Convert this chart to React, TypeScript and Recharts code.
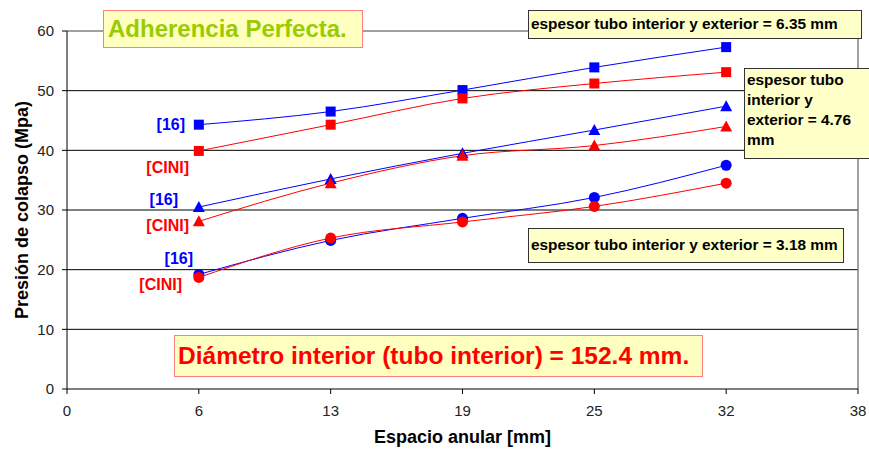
import React from 'react';
import { LineChart, Line, XAxis, YAxis, CartesianGrid, ReferenceLine, Label } from 'recharts';

const espacio = [6.35, 12.7, 19.05, 25.4, 31.75];
const xTicks = [0, 6.35, 12.7, 19.05, 25.4, 31.75, 38.1];
const yTicks = [0, 10, 20, 30, 40, 50, 60];

const sq16 = [44.3, 46.5, 50.1, 53.9, 57.3];
const sqCini = [39.9, 44.3, 48.7, 51.2, 53.1];
const tr16 = [30.5, 35.2, 39.5, 43.4, 47.4];
const trCini = [28.1, 34.5, 39.1, 40.8, 44.0];
const ci16 = [19.2, 24.9, 28.6, 32.1, 37.5];
const ciCini = [18.7, 25.3, 28.0, 30.6, 34.5];

const data = espacio.map((x, i) => ({
  x,
  sq16: sq16[i],
  sqCini: sqCini[i],
  tr16: tr16[i],
  trCini: trCini[i],
  ci16: ci16[i],
  ciCini: ciCini[i],
}));

const Square = (color: string) => (props: any) => {
  const { cx, cy, index } = props;
  if (cx == null || cy == null) return <g key={index} />;
  return <rect key={index} x={cx - 5} y={cy - 5} width={10} height={10} fill={color} />;
};
const Tri = (color: string) => (props: any) => {
  const { cx, cy, index } = props;
  if (cx == null || cy == null) return <g key={index} />;
  return <polygon key={index} points={`${cx},${cy - 6} ${cx + 6},${cy + 5} ${cx - 6},${cy + 5}`} fill={color} />;
};
const Circ = (color: string) => (props: any) => {
  const { cx, cy, index } = props;
  if (cx == null || cy == null) return <g key={index} />;
  return <circle key={index} cx={cx} cy={cy} r={5.5} fill={color} />;
};

const BLUE = '#0000FF';
const RED = '#FF0000';
const FONT = 'Liberation Sans, Arial, sans-serif';

const tag = (text: string, color: string, right: number, top: number) => (
  <div
    style={{
      position: 'absolute',
      right: 869 - right,
      top,
      color,
      fontFamily: FONT,
      fontWeight: 'bold',
      fontSize: 16,
      lineHeight: '18px',
      whiteSpace: 'nowrap',
    }}
  >
    {text}
  </div>
);

export default function App() {
  return (
    <div style={{ position: 'absolute', left: 0, top: 0, width: 869, height: 452, background: '#fff', fontFamily: FONT }}>
      <LineChart
        width={869}
        height={452}
        data={data}
        margin={{ top: 31, right: 11, bottom: 23, left: 30 }}
      >
        <CartesianGrid horizontal={true} vertical={false} stroke="#000" strokeOpacity={1} horizontalValues={[10, 20, 30, 40, 50]} />
        <ReferenceLine y={60} stroke="#808080" strokeWidth={1.5} />
        <ReferenceLine x={38.1} stroke="#808080" strokeWidth={1.5} />
        <XAxis
          dataKey="x"
          type="number"
          domain={[0, 38.1]}
          ticks={xTicks}
          tickFormatter={(v: number) => String(Math.round(v))}
          stroke="#000"
          tickSize={5}
          tickMargin={11}
          height={40}
          tick={{ fill: '#222', fontSize: 15, fontFamily: FONT }}
          allowDataOverflow
        >
          <Label value="Espacio anular [mm]" position="insideBottom" offset={-14} style={{ fontWeight: 'bold', fontSize: 18, fill: '#000', fontFamily: FONT }} />
        </XAxis>
        <YAxis
          type="number"
          domain={[0, 60]}
          ticks={yTicks}
          stroke="#000"
          tickSize={5}
          tickMargin={8}
          width={37}
          tick={{ fill: '#222', fontSize: 15, fontFamily: FONT }}
        >
          <Label value="Presión de colapso (Mpa)" angle={-90} position="insideLeft" offset={-30} dx={22} style={{ fontWeight: 'bold', fontSize: 18, fill: '#000', fontFamily: FONT, textAnchor: 'middle' }} />
        </YAxis>
        <Line dataKey="sq16" type="monotone" stroke={BLUE} strokeWidth={1} dot={Square(BLUE)} isAnimationActive={false} />
        <Line dataKey="sqCini" type="monotone" stroke={RED} strokeWidth={1} dot={Square(RED)} isAnimationActive={false} />
        <Line dataKey="tr16" type="monotone" stroke={BLUE} strokeWidth={1} dot={Tri(BLUE)} isAnimationActive={false} />
        <Line dataKey="trCini" type="monotone" stroke={RED} strokeWidth={1} dot={Tri(RED)} isAnimationActive={false} />
        <Line dataKey="ci16" type="monotone" stroke={BLUE} strokeWidth={1} dot={Circ(BLUE)} isAnimationActive={false} />
        <Line dataKey="ciCini" type="monotone" stroke={RED} strokeWidth={1} dot={Circ(RED)} isAnimationActive={false} />
      </LineChart>

      <div
        style={{
          position: 'absolute', left: 103, top: 10, width: 260, height: 38,
          background: '#FFFFC0', border: '1px solid #FF7F7F', color: '#99CC00',
          fontWeight: 'bold', fontSize: 24, lineHeight: '36px', paddingLeft: 4, boxSizing: 'border-box', whiteSpace: 'nowrap',
        }}
      >
        Adherencia Perfecta.
      </div>

      <div
        style={{
          position: 'absolute', left: 528, top: 10, width: 334, height: 29,
          background: '#FFFFC8', border: '1px solid #333', color: '#000',
          fontWeight: 'bold', fontSize: 15.4, lineHeight: '26px', paddingLeft: 2, boxSizing: 'border-box', whiteSpace: 'nowrap',
        }}
      >
        espesor tubo interior y exterior = 6.35 mm
      </div>

      <div
        style={{
          position: 'absolute', left: 744, top: 68, width: 130, height: 91,
          background: '#FFFFC8', border: '1px solid #333', color: '#000',
          fontWeight: 'bold', fontSize: 15.4, lineHeight: '20px', paddingLeft: 2, paddingTop: 1, boxSizing: 'border-box', whiteSpace: 'nowrap',
        }}
      >
        espesor tubo<br />interior y<br />exterior = 4.76<br />mm
      </div>

      <div
        style={{
          position: 'absolute', left: 528, top: 228, width: 316, height: 35,
          background: '#FFFFC8', border: '1px solid #333', color: '#000',
          fontWeight: 'bold', fontSize: 15.4, lineHeight: '32px', paddingLeft: 2, boxSizing: 'border-box', whiteSpace: 'nowrap',
        }}
      >
        espesor tubo interior y exterior = 3.18 mm
      </div>

      <div
        style={{
          position: 'absolute', left: 174, top: 335, width: 529, height: 42,
          background: '#FFFFC0', border: '1px solid #FF7F7F', color: '#FF0000',
          fontWeight: 'bold', fontSize: 24.5, lineHeight: '40px', paddingLeft: 3, boxSizing: 'border-box', whiteSpace: 'nowrap',
        }}
      >
        Diámetro interior (tubo interior) = 152.4 mm.
      </div>

      {tag('[16]', BLUE, 185, 116)}
      {tag('[CINI]', RED, 189, 159)}
      {tag('[16]', BLUE, 178, 191)}
      {tag('[CINI]', RED, 189, 217)}
      {tag('[16]', BLUE, 193, 250)}
      {tag('[CINI]', RED, 182, 276)}
    </div>
  );
}
